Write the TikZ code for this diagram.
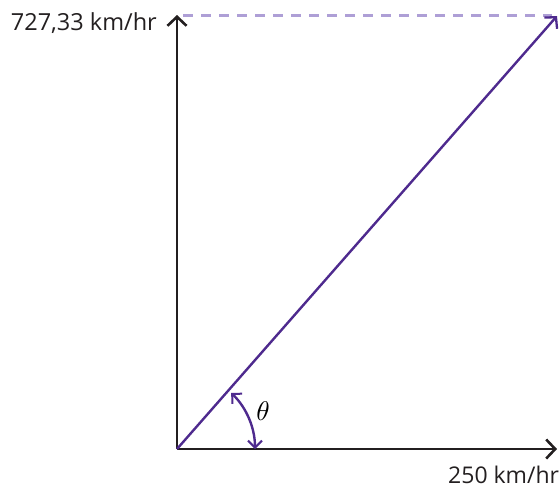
\documentclass[tikz,border=0pt]{standalone}
\usepackage{fontspec}
\setmainfont{Open Sans}
\usetikzlibrary{arrows.meta}

\definecolor{vecpurple}{HTML}{4E2A8E}
\definecolor{lightpurple}{HTML}{AE9FD6}
\definecolor{axisgray}{HTML}{231F20}

\tikzset{
  axisline/.style={line width=2.8pt, axisgray, -{Straight Barb[length=9pt, width=19pt, line width=2.6pt]}},
  vecline/.style={line width=2.4pt, vecpurple},
  speedlabel/.style={font=\fontsize{23.5}{26}\selectfont, text=axisgray, inner sep=0pt}
}

\begin{document}
\begin{tikzpicture}[x=1pt, y=-1pt]
    \useasboundingbox (0,0) rectangle (559,491);

    % Punkte
    \coordinate (O) at (177,449);
    \coordinate (xend) at (557,449);
    \coordinate (yend) at (177,15);
    \coordinate (vend) at (557,16);
    \coordinate (dstart) at (183,15);
    \coordinate (dend) at (552,15);

    % Hilfslinie
    \draw[lightpurple, line width=3pt, dash pattern=on 10pt off 8pt] (dstart) -- (dend);

    % Achsen
    \draw[axisline] (O) -- (xend);
    \draw[axisline] (O) -- (yend);

    % Resultierende
    \draw[vecline, -{Straight Barb[length=8pt, width=17pt, line width=2.3pt]}] (O) -- (vend);

    % Winkel
    \draw[vecline, {Straight Barb[length=7pt, width=14pt, line width=2pt]}-{Straight Barb[length=7pt, width=14pt, line width=2pt]}]
        (O) ++(-46:78) arc[start angle=-46, end angle=0, radius=78];

    % Beschriftungen
    \node[speedlabel, anchor=base east] (ylabel) at (157,30) {727,33 km/hr};
    \node[speedlabel, font=\fontsize{23}{26}\selectfont, anchor=base west] (xlabel) at (448,483) {250 km/hr};
    \node[inner sep=0pt, scale=2.7] (theta) at (263,411) {$\theta$};
\end{tikzpicture}
\end{document}
